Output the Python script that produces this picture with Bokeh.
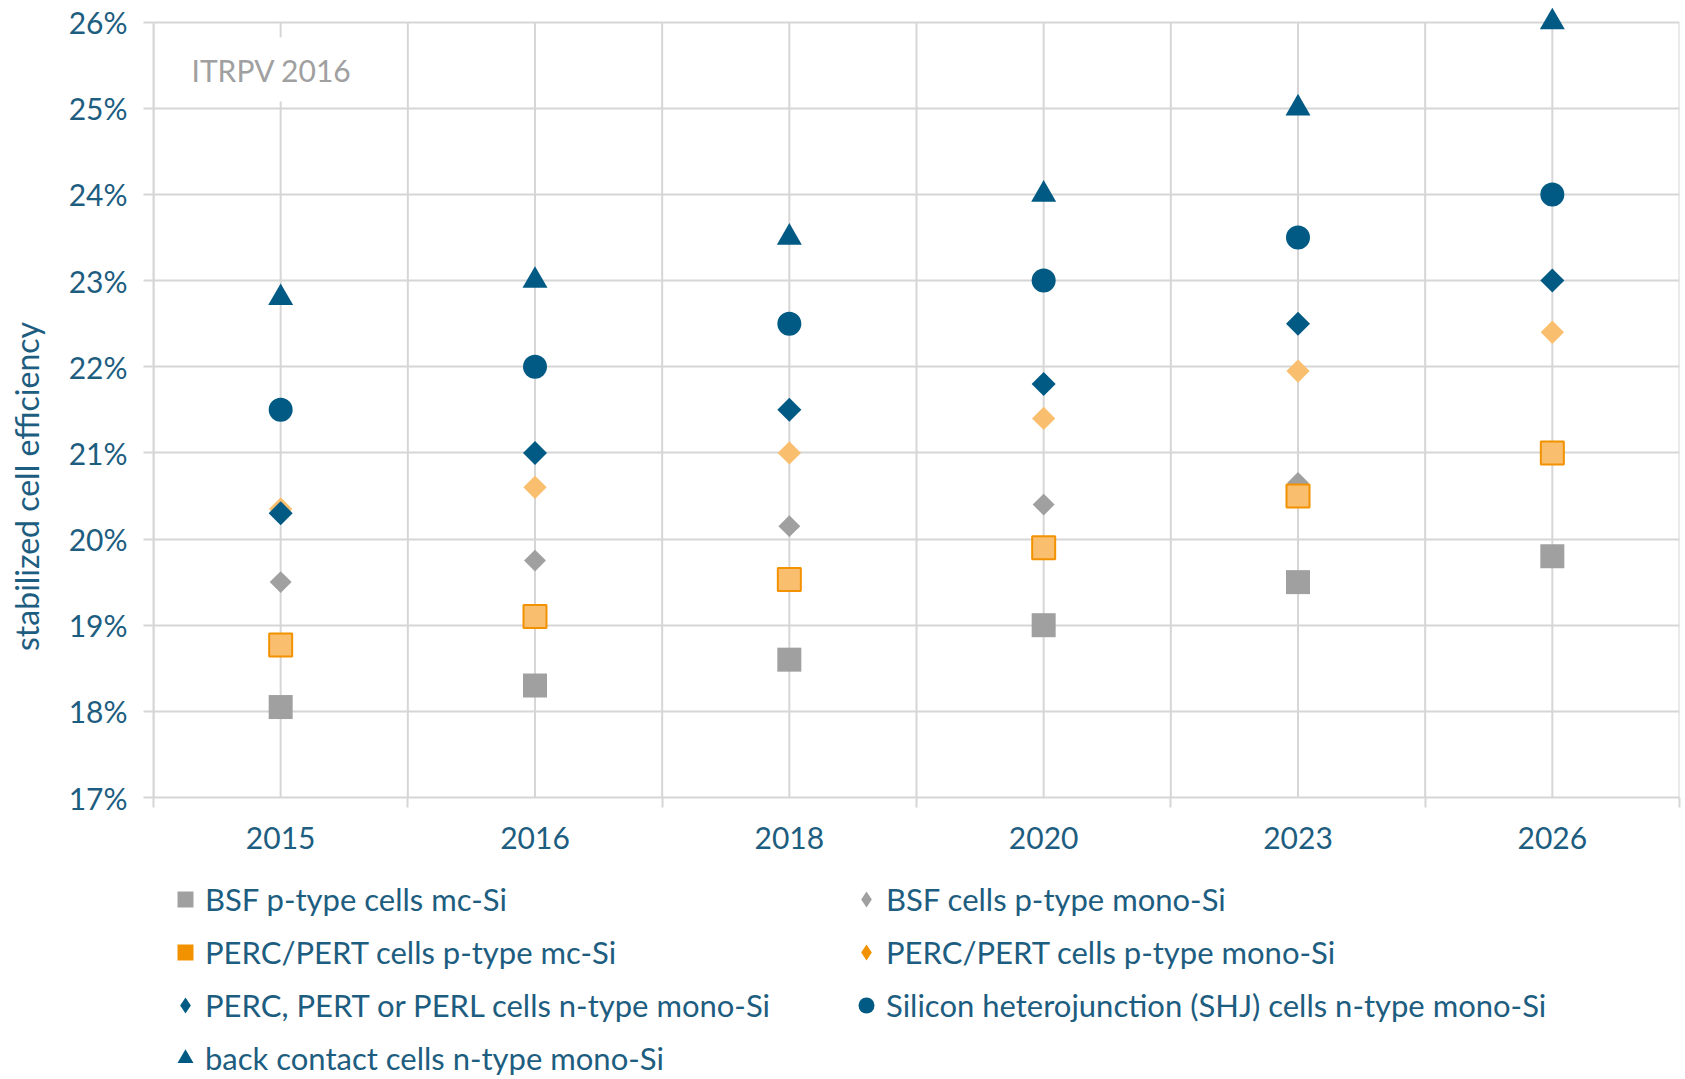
import math
from bokeh.plotting import figure
from bokeh.layouts import column
from bokeh.models import (FactorRange, Range1d, LinearAxis, CategoricalAxis, FixedTicker,
                          PrintfTickFormatter, Legend, LegendItem, Label, ColumnDataSource)
from bokeh.embed import file_html
from bokeh.resources import INLINE

# ---------------- data ----------------
years = ["2015", "2016", "2018", "2020", "2023", "2026"]
bsf_mc = [18.05, 18.3, 18.6, 19.0, 19.5, 19.8]
bsf_mono = [19.5, 19.75, 20.15, 20.4, 20.65, 21.0]
perc_mc = [18.77, 19.1, 19.53, 19.9, 20.5, 21.0]
perc_p_mono = [20.35, 20.6, 21.0, 21.4, 21.95, 22.4]
perc_n_mono = [20.3, 21.0, 21.5, 21.8, 22.5, 23.0]
shj = [21.5, 22.0, 22.5, 23.0, 23.5, 24.0]
back_contact = [22.8, 23.0, 23.5, 24.0, 25.0, 26.0]
series_labels = [
    "BSF p-type cells mc-Si",
    "BSF cells p-type mono-Si",
    "PERC/PERT cells p-type mc-Si",
    "PERC/PERT cells p-type mono-Si",
    "PERC, PERT or PERL cells n-type mono-Si",
    "Silicon heterojunction (SHJ) cells n-type mono-Si",
    "back contact cells n-type mono-Si",
]
y_ticks = list(range(17, 27))
source_note = "ITRPV 2016"
y_title = "stabilized cell efficiency"

# ---------------- style ----------------
FONT = "Lato"
TEXT = "#1d5d80"
BLUE = "#005a84"
GRAY = "#a0a0a0"
ORANGE = "#f39200"
LIGHT_OR = "#f9bf6f"
GRID = "#d6d6d6"
W = 1683

y_lo, y_hi = y_ticks[0], y_ticks[-1]
p = figure(width=W, height=869, x_range=FactorRange(*years),
           y_range=Range1d(y_lo, y_hi + 0.17),
           x_axis_location=None, output_backend="svg", toolbar_location=None,
           min_border_left=153, min_border_right=4, min_border_top=7,
           min_border_bottom=72)
p.outline_line_color = None
p.background_fill_color = "white"
p.border_fill_color = "white"
p.xgrid.visible = False

# category boundaries in synthetic categorical coordinates
bounds = list(range(len(years) + 1))

# y axis
yax = p.yaxis[0]
yax.ticker = FixedTicker(ticks=y_ticks)
yax.bounds = (y_lo, y_hi)
yax.formatter = PrintfTickFormatter(format="%d%%")
yax.major_tick_out = 10
yax.major_tick_in = 0
yax.minor_tick_line_color = None
yax.major_tick_line_color = GRID
yax.major_tick_line_width = 2
yax.axis_line_color = GRID
yax.axis_line_width = 2
yax.major_label_text_font = FONT
yax.major_label_text_font_size = "30px"
yax.major_label_text_color = TEXT
yax.major_label_standoff = 16
yax.axis_label = y_title + "\u2003" * 7
yax.axis_label_text_font = FONT
yax.axis_label_text_font_size = "32px"
yax.axis_label_text_font_style = "normal"
yax.axis_label_text_color = TEXT
yax.axis_label_standoff = 20
p.ygrid.grid_line_color = GRID
p.ygrid.grid_line_width = 2
p.ygrid.ticker = FixedTicker(ticks=y_ticks)

# boundary tick axis
bax = LinearAxis(ticker=FixedTicker(ticks=bounds, minor_ticks=[]),
                 major_tick_out=10, major_tick_in=0, major_tick_line_color=GRID,
                 major_tick_line_width=2, axis_line_color=GRID, axis_line_width=2,
                 major_label_text_font_size="0px", major_label_standoff=0,
                 minor_tick_line_color=None)
bax.major_label_overrides = {b: "" for b in bounds}
p.add_layout(bax, "below")

# category label axis
cax = CategoricalAxis(axis_line_color=None, major_tick_line_color=None, major_tick_out=0,
                      major_tick_in=0, major_label_text_font=FONT,
                      major_label_text_font_size="30px", major_label_text_color=TEXT,
                      major_label_standoff=19)
p.add_layout(cax, "below")

# vertical grid lines (category centres and boundaries), limited to the tick span
p.segment(x0=years, y0=[y_lo] * len(years), x1=years, y1=[y_hi] * len(years),
          line_color=GRID, line_width=2)
p.segment(x0=bounds, y0=[y_lo] * len(bounds), x1=bounds, y1=[y_hi] * len(bounds),
          line_color=GRID, line_width=2)

# ---------------- markers ----------------
src = ColumnDataSource(dict(x=years, bsf_mc=bsf_mc, bsf_mono=bsf_mono, perc_mc=perc_mc,
                            perc_p_mono=perc_p_mono, perc_n_mono=perc_n_mono, shj=shj,
                            bc=back_contact))
D = math.pi / 4
p.scatter("x", "bsf_mc", source=src, marker="square", size=24, fill_color=GRAY, line_color=None)
p.scatter("x", "bsf_mono", source=src, marker="square", angle=D, size=15.5, fill_color=GRAY, line_color=None)
p.scatter("x", "perc_mc", source=src, marker="square", size=23, fill_color=LIGHT_OR,
          line_color=ORANGE, line_width=2)
p.scatter("x", "perc_p_mono", source=src, marker="square", angle=D, size=16.5, fill_color=LIGHT_OR, line_color=None)
p.scatter("x", "perc_n_mono", source=src, marker="square", angle=D, size=17, fill_color=BLUE, line_color=None)
p.scatter("x", "shj", source=src, marker="circle", size=24, fill_color=BLUE, line_color=None)
p.scatter("x", "bc", source=src, marker="triangle", size=25, fill_color=BLUE, line_color=None)

# source note
p.add_layout(Label(x=24, x_units="screen", y=25.45, text=source_note, text_font=FONT,
                   text_font_size="30px", text_color=GRAY, text_baseline="alphabetic",
                   background_fill_color="white", padding=14))

# ---------------- legend (separate strip below the chart) ----------------
pl = figure(width=W, height=209, x_range=FactorRange(*years), y_range=Range1d(0, 1),
            x_axis_location=None, y_axis_location=None, output_backend="svg",
            toolbar_location=None, min_border=0)
pl.outline_line_color = None
pl.background_fill_color = "white"
pl.border_fill_color = "white"
pl.grid.visible = False

series_values = [bsf_mc, bsf_mono, perc_mc, perc_p_mono, perc_n_mono, shj, back_contact]
swatch_specs = [("square", GRAY), ("diamond", GRAY), ("square", ORANGE), ("diamond", ORANGE),
                ("diamond", BLUE), ("circle", BLUE), ("triangle", BLUE)]
items = []
for lab, vals, (mk, col) in zip(series_labels, series_values, swatch_specs):
    # series drawn outside this strip's visible range: only the legend swatch shows
    r = pl.scatter(x=years, y=vals, marker=mk, size=14, fill_color=col, line_color=None)
    items.append(LegendItem(label=lab, renderers=[r]))

legend = Legend(items=items, location=(12, 0), orientation="horizontal", ncols=2,
                glyph_width=40, glyph_height=40, label_height=36, label_width=628,
                label_standoff=0, spacing=13, padding=0, margin=0,
                border_line_color=None, background_fill_alpha=0,
                label_text_font=FONT, label_text_font_size="31px", label_text_color=TEXT)
pl.add_layout(legend)

open("out.html", "w").write(file_html(column(p, pl, spacing=0), INLINE))
